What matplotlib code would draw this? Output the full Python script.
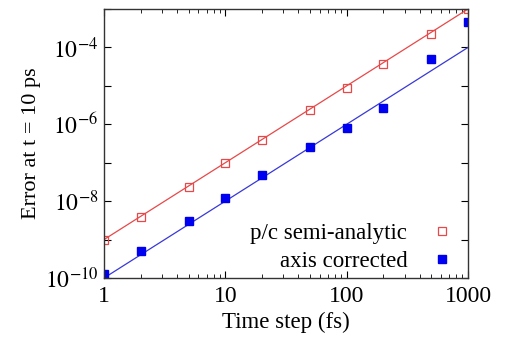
import numpy as np
import matplotlib
matplotlib.use('Agg')
import matplotlib.pyplot as plt
from matplotlib.ticker import LogLocator, FixedLocator, NullLocator, FuncFormatter

plt.rcParams['font.family'] = 'Liberation Serif'
plt.rcParams['mathtext.fontset'] = 'stix'

steps = [1, 2, 5, 10, 20, 50, 100, 200, 500, 1000]
err_pc = [1.0e-9, 3.8e-9, 2.3e-8, 1.0e-7, 3.8e-7, 2.4e-6, 9.0e-6, 3.8e-5, 2.3e-4, 1.0e-3]
err_axis = [1.26e-10, 5.0e-10, 3.0e-9, 1.2e-8, 4.8e-8, 2.5e-7, 8.0e-7, 2.6e-6, 5.1e-5, 4.5e-4]

# reference lines ~ dt^2
fit_x = [1, 1000]
fit_pc = [1e-9, 1e-3]
fit_axis = [1e-10, 1e-4]

fig = plt.figure(figsize=(5.05, 3.37), dpi=100)
ax = fig.add_axes([104/505, 1 - 278/337, 364/505, 269/337])

ax.plot(fit_x, fit_pc, color='#e84848', lw=0.9)
ax.plot(fit_x, fit_axis, color='#3838d8', lw=0.9)
ax.plot(steps, err_pc, 's', mfc='none', mec='#e84848', mew=0.9, ms=6,
        label='p/c semi-analytic')
ax.plot(steps, err_axis, 's', color='#0000f0', ms=6, label='axis corrected')

ax.set_xscale('log')
ax.set_yscale('log')
ax.set_xlim(1, 1000)
ax.set_ylim(1e-10, 1e-3)

ax.xaxis.set_major_locator(FixedLocator([1, 10, 100, 1000]))
ax.xaxis.set_minor_locator(LogLocator(base=10, subs=np.arange(2, 10)))
ax.xaxis.set_major_formatter(FuncFormatter(lambda v, p: '%d' % v))
ax.yaxis.set_major_locator(FixedLocator([10.0**k for k in range(-10, -2)]))
ax.yaxis.set_minor_locator(NullLocator())


def yfmt(v, p):
    k = int(round(np.log10(v)))
    return r'$10^{%d}$' % k if k % 2 == 0 else ''


ax.yaxis.set_major_formatter(FuncFormatter(yfmt))

ax.tick_params(which='both', direction='in', top=True, right=True, labelsize=17)
ax.tick_params(which='major', length=5)
ax.tick_params(which='minor', length=3)
ax.tick_params(axis='x', pad=6)
ax.tick_params(axis='y', pad=4)
for s in ax.spines.values():
    s.set_linewidth(1.0)
    s.set_color('#333333')

ax.set_xlabel('Time step (fs)', fontsize=16.5, labelpad=3)
ax.set_ylabel('Error at t = 10 ps', fontsize=16, labelpad=3)

ax.legend(loc='lower right', bbox_to_anchor=(0.975, 0.0), frameon=False,
          markerfirst=False, fontsize=16.5, handlelength=1.0, handletextpad=1.0,
          borderaxespad=0.0, labelspacing=0.3, borderpad=0.25)

fig.savefig('out.png', dpi=100)
